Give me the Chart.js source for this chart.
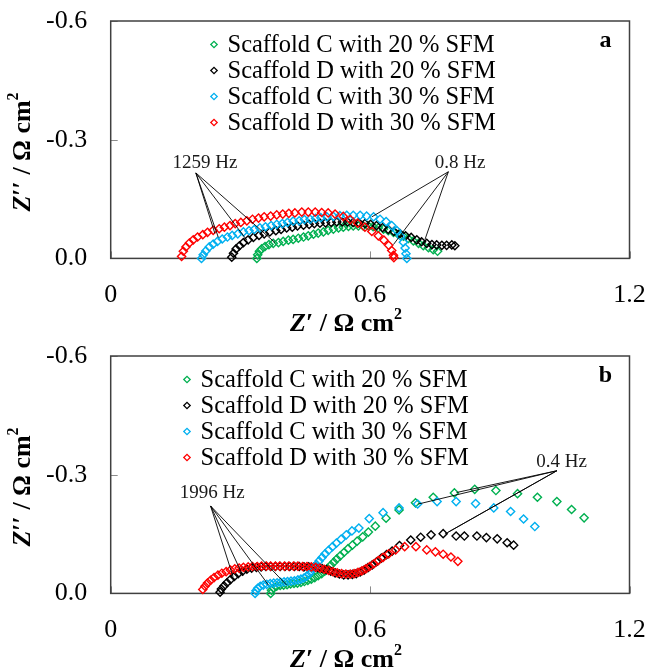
<!DOCTYPE html>
<html>
<head>
<meta charset="utf-8">
<style>
  html, body { margin: 0; padding: 0; background: #fff; }
  canvas { display: block; }
</style>
</head>
<body>
<canvas id="panelA" width="649" height="335"></canvas>
<canvas id="panelB" width="649" height="336"></canvas>
<script src="https://cdn.jsdelivr.net/npm/chart.js"></script>
<script>
// Nyquist data, Z' and Z'' in ohm cm2
// panel a
const reA_C20 = [0.338,0.340,0.344,0.349,0.357,0.366,0.376,0.388,0.399,0.411,0.422,0.434,0.446,0.457,0.469,0.480,0.492,0.503,0.515,0.527,0.538,0.550,0.561,0.573,0.584,0.596,0.607,0.619,0.631,0.642,0.654,0.665,0.677,0.688,0.700,0.712,0.723,0.735,0.746,0.756];
const imA_C20 = [-0.000,-0.009,-0.018,-0.024,-0.030,-0.035,-0.038,-0.040,-0.043,-0.046,-0.048,-0.051,-0.054,-0.057,-0.061,-0.064,-0.067,-0.071,-0.074,-0.077,-0.079,-0.081,-0.082,-0.082,-0.082,-0.082,-0.080,-0.077,-0.074,-0.070,-0.066,-0.061,-0.056,-0.050,-0.044,-0.038,-0.032,-0.027,-0.022,-0.018];
const reA_D20 = [0.280,0.284,0.290,0.298,0.307,0.318,0.330,0.343,0.355,0.368,0.382,0.394,0.407,0.420,0.432,0.446,0.459,0.471,0.484,0.497,0.510,0.523,0.536,0.548,0.561,0.574,0.588,0.601,0.615,0.629,0.642,0.655,0.669,0.682,0.695,0.708,0.719,0.731,0.743,0.754,0.766,0.777,0.789,0.796];
const imA_D20 = [-0.003,-0.013,-0.024,-0.032,-0.040,-0.047,-0.053,-0.058,-0.062,-0.067,-0.070,-0.073,-0.077,-0.079,-0.082,-0.084,-0.086,-0.088,-0.089,-0.090,-0.091,-0.092,-0.092,-0.092,-0.091,-0.090,-0.088,-0.086,-0.083,-0.078,-0.073,-0.068,-0.063,-0.057,-0.053,-0.047,-0.042,-0.038,-0.035,-0.034,-0.033,-0.033,-0.034,-0.032];
const reA_C30 = [0.210,0.214,0.220,0.228,0.237,0.247,0.258,0.270,0.281,0.294,0.307,0.320,0.332,0.345,0.358,0.371,0.384,0.397,0.409,0.422,0.436,0.448,0.461,0.474,0.486,0.500,0.515,0.530,0.546,0.561,0.577,0.592,0.608,0.623,0.637,0.650,0.662,0.671,0.677,0.681,0.683,0.685];
const imA_C30 = [-0.000,-0.009,-0.019,-0.029,-0.036,-0.043,-0.049,-0.054,-0.058,-0.062,-0.067,-0.070,-0.073,-0.077,-0.080,-0.083,-0.086,-0.088,-0.091,-0.094,-0.095,-0.098,-0.099,-0.101,-0.103,-0.105,-0.106,-0.108,-0.109,-0.109,-0.109,-0.107,-0.105,-0.099,-0.093,-0.083,-0.070,-0.056,-0.041,-0.026,-0.012,-0.000];
const reA_D30 = [0.164,0.168,0.174,0.182,0.191,0.201,0.213,0.224,0.237,0.251,0.263,0.276,0.288,0.301,0.315,0.328,0.342,0.355,0.370,0.384,0.398,0.412,0.426,0.442,0.457,0.473,0.488,0.503,0.519,0.538,0.554,0.571,0.588,0.604,0.619,0.632,0.643,0.650,0.654,0.655];
const imA_D30 = [-0.005,-0.018,-0.029,-0.039,-0.047,-0.054,-0.060,-0.066,-0.071,-0.075,-0.079,-0.083,-0.088,-0.091,-0.095,-0.099,-0.102,-0.105,-0.107,-0.110,-0.112,-0.114,-0.115,-0.117,-0.117,-0.117,-0.116,-0.115,-0.112,-0.106,-0.098,-0.089,-0.079,-0.068,-0.057,-0.046,-0.033,-0.020,-0.008,-0.002];

// panel b
const reB_C20 = [0.370,0.372,0.377,0.384,0.392,0.400,0.408,0.416,0.424,0.432,0.440,0.448,0.456,0.464,0.472,0.480,0.488,0.495,0.502,0.509,0.516,0.523,0.531,0.540,0.549,0.559,0.570,0.583,0.596,0.612,0.637,0.667,0.705,0.746,0.795,0.842,0.891,0.941,0.987,1.032,1.066,1.095];
const imB_C20 = [-0.000,-0.008,-0.014,-0.018,-0.020,-0.021,-0.022,-0.024,-0.025,-0.026,-0.028,-0.030,-0.033,-0.036,-0.040,-0.045,-0.050,-0.056,-0.063,-0.071,-0.079,-0.087,-0.095,-0.104,-0.113,-0.122,-0.132,-0.143,-0.155,-0.170,-0.190,-0.211,-0.229,-0.243,-0.254,-0.263,-0.260,-0.252,-0.243,-0.232,-0.212,-0.191];
const reB_D20 = [0.253,0.256,0.262,0.269,0.277,0.286,0.295,0.305,0.315,0.326,0.337,0.348,0.359,0.370,0.381,0.392,0.403,0.414,0.425,0.436,0.447,0.458,0.469,0.479,0.489,0.499,0.509,0.519,0.529,0.539,0.549,0.559,0.568,0.577,0.586,0.595,0.605,0.615,0.626,0.638,0.651,0.668,0.694,0.717,0.741,0.769,0.799,0.818,0.847,0.869,0.894,0.917,0.932];
const imB_D20 = [-0.003,-0.011,-0.019,-0.027,-0.035,-0.043,-0.050,-0.056,-0.061,-0.064,-0.066,-0.067,-0.068,-0.068,-0.068,-0.068,-0.068,-0.068,-0.068,-0.068,-0.067,-0.067,-0.066,-0.065,-0.063,-0.060,-0.056,-0.052,-0.049,-0.047,-0.047,-0.048,-0.050,-0.054,-0.059,-0.065,-0.072,-0.080,-0.089,-0.098,-0.107,-0.121,-0.135,-0.142,-0.148,-0.151,-0.145,-0.145,-0.145,-0.141,-0.138,-0.128,-0.122];
const reB_C30 = [0.334,0.336,0.340,0.346,0.353,0.361,0.369,0.377,0.385,0.393,0.401,0.409,0.417,0.425,0.433,0.440,0.447,0.453,0.459,0.464,0.470,0.476,0.482,0.489,0.496,0.504,0.513,0.522,0.533,0.545,0.558,0.574,0.598,0.630,0.667,0.710,0.755,0.799,0.844,0.886,0.925,0.955,0.981];
const imB_C30 = [-0.000,-0.007,-0.013,-0.018,-0.021,-0.023,-0.025,-0.026,-0.027,-0.028,-0.029,-0.030,-0.031,-0.032,-0.034,-0.036,-0.039,-0.043,-0.049,-0.056,-0.064,-0.073,-0.082,-0.091,-0.100,-0.109,-0.118,-0.127,-0.137,-0.148,-0.158,-0.165,-0.189,-0.204,-0.216,-0.226,-0.232,-0.232,-0.227,-0.216,-0.207,-0.188,-0.169];
const reB_D30 = [0.213,0.218,0.224,0.231,0.239,0.248,0.257,0.267,0.277,0.287,0.297,0.307,0.318,0.328,0.339,0.349,0.360,0.370,0.381,0.391,0.402,0.412,0.423,0.433,0.444,0.454,0.464,0.474,0.484,0.494,0.504,0.514,0.524,0.534,0.544,0.554,0.563,0.572,0.581,0.590,0.599,0.609,0.619,0.630,0.643,0.659,0.680,0.706,0.731,0.751,0.769,0.787,0.803];
const imB_D30 = [-0.010,-0.018,-0.026,-0.033,-0.040,-0.046,-0.051,-0.055,-0.059,-0.062,-0.064,-0.066,-0.067,-0.068,-0.068,-0.069,-0.069,-0.069,-0.069,-0.069,-0.069,-0.069,-0.069,-0.069,-0.068,-0.068,-0.067,-0.066,-0.064,-0.061,-0.058,-0.055,-0.052,-0.050,-0.049,-0.049,-0.050,-0.053,-0.057,-0.062,-0.068,-0.075,-0.083,-0.091,-0.100,-0.110,-0.118,-0.118,-0.110,-0.105,-0.099,-0.092,-0.081];

const seriesNames = ['Scaffold C with 20 % SFM', 'Scaffold D with 20 % SFM', 'Scaffold C with 30 % SFM', 'Scaffold D with 30 % SFM'];
const seriesColors = ['#00b050', '#000000', '#00b0f0', '#ff0000'];

// frequency call-outs: label position, line origin, line ends (data units)
const notesA = [
  { text: '1259 Hz', at: [0.218, -0.241], apex: [0.197, -0.216],
    ends: [[0.241, -0.063], [0.249, -0.053], [0.315, -0.046], [0.380, -0.040]] },
  { text: '0.8 Hz', at: [0.808, -0.241], apex: [0.781, -0.219],
    ends: [[0.604, -0.105], [0.654, -0.035], [0.727, -0.048]] }
];
const notesB = [
  { text: '1996 Hz', at: [0.235, -0.253], apex: [0.231, -0.221],
    ends: [[0.283, -0.042], [0.306, -0.044], [0.365, -0.021], [0.407, -0.021]] },
  { text: '0.4 Hz', at: [1.043, -0.331], apex: [1.032, -0.310],
    ends: [[0.712, -0.226], [0.800, -0.255], [0.773, -0.150], [0.781, -0.155]] }
];

const serif = '"Liberation Serif", "Times New Roman", serif';
Chart.defaults.font.family = serif;
Chart.defaults.color = '#000';

const toPoints = (re, im) => re.map((x, i) => ({ x, y: im[i] }));

// mixed-style text: italic Z, upright rest, raised small 2
function drawRich(ctx, parts, cx, cy) {
  let w = 0;
  parts.forEach(p => { ctx.font = p.font; w += ctx.measureText(p.text).width; });
  let x = cx - w / 2;
  ctx.textAlign = 'left';
  ctx.textBaseline = 'middle';
  parts.forEach(p => {
    ctx.font = p.font;
    ctx.fillText(p.text, x, cy + (p.dy || 0));
    x += ctx.measureText(p.text).width;
  });
}

const titleParts = primes => [
  { text: 'Z', font: 'italic bold 26px ' + serif },
  { text: primes + ' / Ω cm', font: 'bold 26px ' + serif },
  { text: '2', font: 'bold 16px ' + serif, dy: -9 }
];

const decor = {
  id: 'decor',
  beforeDatasetsDraw(chart) {
    const { ctx, chartArea: a, scales: { x, y } } = chart;
    ctx.save();
    ctx.strokeStyle = '#8c8c8c';
    ctx.lineWidth = 1;
    x.ticks.forEach(t => {
      const px = Math.round(x.getPixelForValue(t.value)) + 0.5;
      ctx.beginPath(); ctx.moveTo(px, a.bottom); ctx.lineTo(px, a.bottom - 7); ctx.stroke();
    });
    y.ticks.forEach(t => {
      const py = Math.round(y.getPixelForValue(t.value)) + 0.5;
      ctx.beginPath(); ctx.moveTo(a.left, py); ctx.lineTo(a.left + 7, py); ctx.stroke();
    });
    ctx.strokeStyle = '#404040';
    ctx.lineWidth = 1.5;
    ctx.strokeRect(a.left, a.top, a.right - a.left, a.bottom - a.top);
    ctx.restore();
  },
  afterDatasetsDraw(chart, args, opts) {
    const { ctx, scales: { x, y } } = chart;
    ctx.save();
    ctx.strokeStyle = '#000';
    ctx.lineWidth = 0.9;
    ctx.fillStyle = '#1a1a1a';
    ctx.font = '19px ' + serif;
    ctx.textAlign = 'center';
    ctx.textBaseline = 'middle';
    opts.notes.forEach(n => {
      const ax = x.getPixelForValue(n.apex[0]), ay = y.getPixelForValue(n.apex[1]);
      n.ends.forEach(e => {
        ctx.beginPath();
        ctx.moveTo(ax, ay);
        ctx.lineTo(x.getPixelForValue(e[0]), y.getPixelForValue(e[1]));
        ctx.stroke();
      });
      ctx.fillText(n.text, x.getPixelForValue(n.at[0]), y.getPixelForValue(n.at[1]));
    });
    ctx.restore();
  },
  afterDraw(chart, args, opts) {
    const { ctx, chartArea: a } = chart;
    ctx.save();
    // legend inside the plot
    chart.data.datasets.forEach((ds, i) => {
      const ly = opts.legendY + i * 26;
      const lx = opts.legendX;
      ctx.strokeStyle = ds.borderColor;
      ctx.lineWidth = 1.3;
      ctx.beginPath();
      ctx.moveTo(lx - 3.2, ly); ctx.lineTo(lx, ly - 3.2);
      ctx.lineTo(lx + 3.2, ly); ctx.lineTo(lx, ly + 3.2);
      ctx.closePath(); ctx.stroke();
      ctx.fillStyle = '#000';
      ctx.font = '24.5px ' + serif;
      ctx.textAlign = 'left';
      ctx.textBaseline = 'middle';
      ctx.fillText(ds.label, lx + 13.5, ly + 1);
    });
    // panel letter
    ctx.font = 'bold 24px ' + serif;
    ctx.textAlign = 'center';
    ctx.textBaseline = 'middle';
    ctx.fillText(opts.letter, a.right - 24, a.top + 20);
    // axis titles
    ctx.fillStyle = '#000';
    drawRich(ctx, titleParts('′'), 346, chart.height - 11);
    ctx.translate(23, 152);
    ctx.rotate(-Math.PI / 2);
    drawRich(ctx, titleParts('′′'), 0, 0);
    ctx.restore();
  }
};

function makeDatasets(sets) {
  return sets.map(([re, im], i) => ({
    label: seriesNames[i],
    data: toPoints(re, im),
    borderColor: seriesColors[i],
    backgroundColor: 'rgba(0,0,0,0)',
    pointStyle: 'rectRot',
    pointRadius: 4.1,
    pointBorderWidth: 1.4,
    showLine: false,
    clip: false,
    order: 4 - i
  }));
}

function makeChart(id, sets, notes, letter, legendX) {
  const canvas = document.getElementById(id);
  const H = canvas.height;
  return new Chart(canvas.getContext('2d'), {
    type: 'scatter',
    data: { datasets: makeDatasets(sets) },
    options: {
      responsive: false,
      animation: false,
      devicePixelRatio: 1,
      layout: { padding: { top: 21, right: 19.5, left: 0, bottom: 0 } },
      events: [],
      plugins: {
        legend: { display: false },
        tooltip: { enabled: false },
        decor: { notes, letter, legendX, legendY: 44.5 }
      },
      scales: {
        x: {
          type: 'linear', min: 0, max: 1.2,
          grid: { display: false, drawTicks: false },
          border: { display: false },
          ticks: {
            stepSize: 0.6, padding: 21, color: '#000',
            font: { family: serif, size: 26 },
            maxRotation: 0,
            callback: v => (v === 0 ? '0' : v.toFixed(1))
          },
          afterFit: s => {
            s.height = H - 258.4;
            s.paddingLeft = 0;
            s.paddingRight = 0;
          }
        },
        y: {
          type: 'linear', min: -0.6, max: 0, reverse: true,
          grid: { display: false, drawTicks: false },
          border: { display: false },
          ticks: {
            stepSize: 0.3, padding: 23.5, color: '#000',
            font: { family: serif, size: 26 },
            callback: v => v.toFixed(1)
          },
          afterFit: s => {
            s.width = 110.7;
            s.paddingTop = 0;
            s.paddingBottom = 0;
          }
        }
      }
    },
    plugins: [decor]
  });
}

makeChart('panelA',
  [[reA_C20, imA_C20], [reA_D20, imA_D20], [reA_C30, imA_C30], [reA_D30, imA_D30]],
  notesA, 'a', 214);
makeChart('panelB',
  [[reB_C20, imB_C20], [reB_D20, imB_D20], [reB_C30, imB_C30], [reB_D30, imB_D30]],
  notesB, 'b', 187);
</script>
</body>
</html>
